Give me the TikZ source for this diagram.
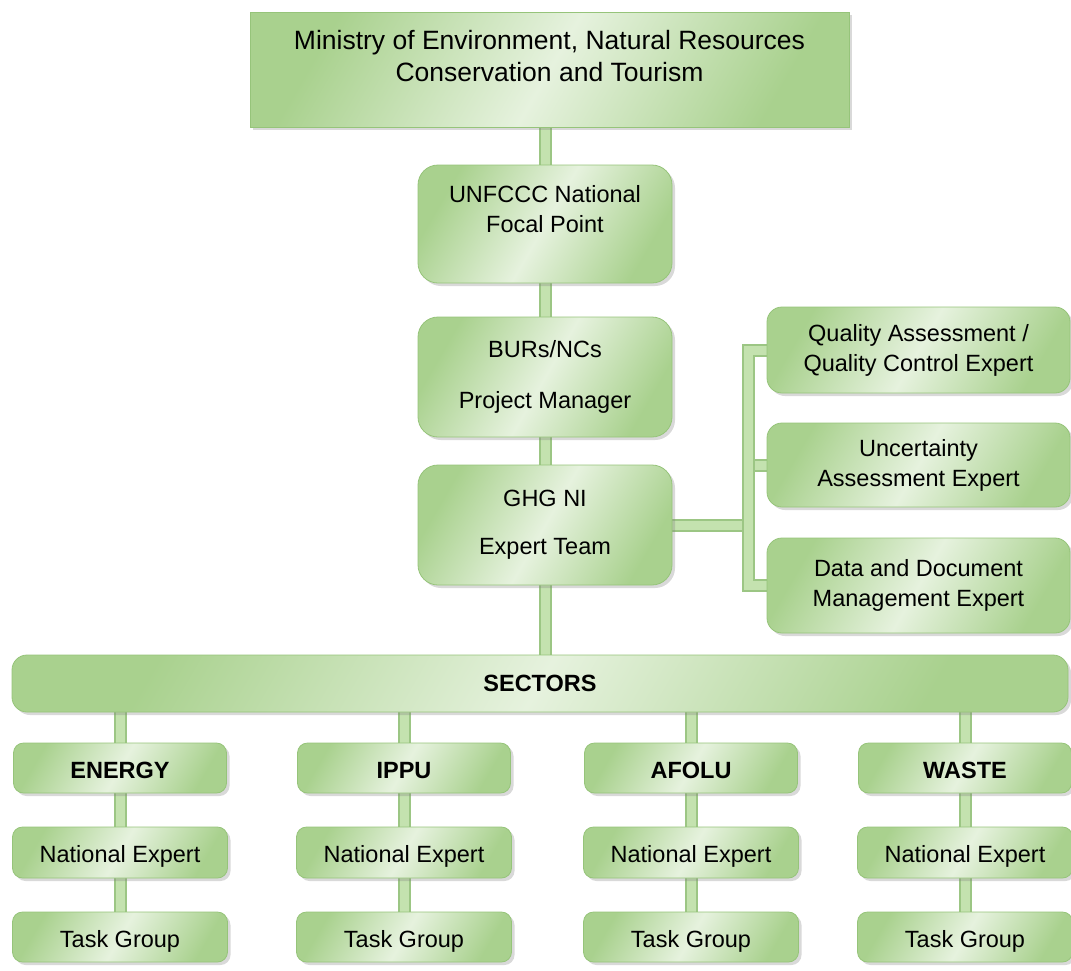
\documentclass[tikz,border=0pt]{standalone}
\usepackage{fontspec}
\setmainfont{Liberation Sans}
\usetikzlibrary{shadows, backgrounds}
\definecolor{boxdark}{HTML}{A9D18E}
\definecolor{boxlight}{HTML}{E6F2DE}
\definecolor{boxedge}{HTML}{96C47A}
\definecolor{pipeedge}{HTML}{9CC684}
\definecolor{pipelight}{HTML}{C4E2AF}

\begin{document}
\begin{tikzpicture}[x=1pt, y=-1pt,
    box/.style={draw=boxedge, line width=0.8pt, left color=boxdark, right color=boxdark,
      middle color=boxlight, shading angle=60,
      drop shadow={shadow xshift=3pt, shadow yshift=-3pt, opacity=0.3},
      inner sep=0pt, align=center, font=\fontsize{23.5}{30}\selectfont},
    head/.style={box, rounded corners=20pt, minimum width=254pt, minimum height=120pt},
    side/.style={box, rounded corners=15pt, minimum width=303pt},
    sector/.style={box, rounded corners=10pt, minimum width=213pt, minimum height=50pt,
      text height=21pt, text depth=1pt},
    pipe/.style={draw=pipeedge, line width=2pt, double=pipelight, double distance=9pt}]
    \useasboundingbox (0,0) rectangle (1071,970);

    % chain of command
    \node[box, minimum width=599pt, text height=69pt, text depth=46pt,
      font=\fontsize{26.5}{32}\selectfont] (ministry) at (549.5,69.5)
      {Ministry of Environment, Natural Resources\\Conservation and Tourism};
    \node[head, text height=67pt, text depth=51pt, minimum height=0pt] (focal) at (545,224)
      {UNFCCC National\\Focal Point};
    \node[head] (manager) at (545,377) {BURs/NCs\\[21pt]Project Manager};
    \node[head] (team) at (545,525) {GHG NI\\[18pt]Expert Team};

    % experts at the side
    \node[side, minimum height=86pt] (qa) at (918.5,350) {Quality Assessment /\\Quality Control Expert};
    \node[side, minimum height=84pt] (unc) at (918.5,465) {Uncertainty\\Assessment Expert};
    \node[side, minimum height=95pt] (data) at (918.5,585.5) {Data and Document\\Management Expert};
    \coordinate (bus) at (748,343);

    % sectors
    \node[box, rounded corners=15pt, minimum width=1056pt, minimum height=57pt,
      font=\fontsize{23.5}{30}\selectfont\bfseries] (sectors) at (540,683.5) {SECTORS};

    \node[sector, font=\fontsize{23.5}{30}\selectfont\bfseries] (energy) at (120,768) {ENERGY};
    \node[sector, font=\fontsize{23.5}{30}\selectfont\bfseries] (ippu) at (404,768) {IPPU};
    \node[sector, font=\fontsize{23.5}{30}\selectfont\bfseries] (afolu) at (691,768) {AFOLU};
    \node[sector, font=\fontsize{23.5}{30}\selectfont\bfseries] (waste) at (965,768) {WASTE};

    \node[sector, minimum width=215pt, minimum height=51pt] (energyexp) at (120,852.5) {National Expert};
    \node[sector, minimum width=215pt, minimum height=51pt] (ippuexp) at (404,852.5) {National Expert};
    \node[sector, minimum width=215pt, minimum height=51pt] (afoluexp) at (691,852.5) {National Expert};
    \node[sector, minimum width=215pt, minimum height=51pt] (wasteexp) at (965,852.5) {National Expert};

    \node[sector, minimum width=215pt] (energytg) at (120,937) {Task Group};
    \node[sector, minimum width=215pt] (ipputg) at (404,937) {Task Group};
    \node[sector, minimum width=215pt] (afolutg) at (691,937) {Task Group};
    \node[sector, minimum width=215pt] (wastetg) at (965,937) {Task Group};

    \begin{scope}[on background layer]
      \draw[pipe] (focal.north) -- (focal.north |- ministry.south);
      \draw[pipe] (focal) -- (manager);
      \draw[pipe] (manager) -- (team);
      \draw[pipe] (team.south) -- (team.south |- sectors.north);
      \draw[pipe] (team.east) -- (team.east -| bus);
      \draw[pipe] (unc.west) -- (unc.west -| bus);
      \draw[pipe] (qa.west) -- (qa.west -| bus) -- (data.west -| bus) -- (data.west);

      \draw[pipe] (energy.north) -- (energy.north |- sectors.south);
      \draw[pipe] (ippu.north) -- (ippu.north |- sectors.south);
      \draw[pipe] (afolu.north) -- (afolu.north |- sectors.south);
      \draw[pipe] (waste.north) -- (waste.north |- sectors.south);
      \draw[pipe] (energy) -- (energyexp) -- (energytg);
      \draw[pipe] (ippu) -- (ippuexp) -- (ipputg);
      \draw[pipe] (afolu) -- (afoluexp) -- (afolutg);
      \draw[pipe] (waste) -- (wasteexp) -- (wastetg);
    \end{scope}
\end{tikzpicture}
\end{document}
